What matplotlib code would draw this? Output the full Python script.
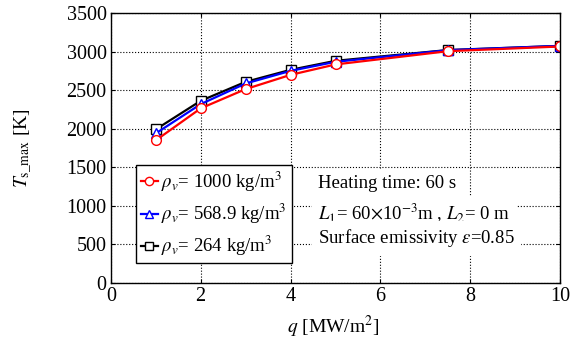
import matplotlib
matplotlib.use("Agg")
import matplotlib.pyplot as plt

plt.rcParams['font.family'] = ['Liberation Serif', 'DejaVu Serif']
plt.rcParams['mathtext.fontset'] = 'stix'

# Heat flux q [MW/m^2]
q = [1, 2, 3, 4, 5, 7.5, 10]

# Maximum surface temperature [K] for each density
t_1000 = [1850, 2265, 2515, 2700, 2835, 3007, 3068]
t_568 = [1940, 2320, 2588, 2752, 2869, 3020, 3076]
t_264 = [1992, 2363, 2609, 2765, 2882, 3022, 3076]

labels = [r'$\rho_v$= 1000 kg/m$^3$',
          r'$\rho_v$= 568.9 kg/m$^3$',
          r'$\rho_v$= 264 kg/m$^3$']

x_ticks = [0, 2, 4, 6, 8, 10]
y_ticks = [0, 500, 1000, 1500, 2000, 2500, 3000, 3500]

fig = plt.figure(figsize=(5.8, 3.56), dpi=100)
ax = fig.add_axes([0.191, 0.205, 0.775, 0.758])

l3, = ax.plot(q, t_264, color='black', lw=1.6, marker='s', ms=6.5,
              mfc='white', mec='black', mew=1.0, label=labels[2])
l2, = ax.plot(q, t_568, color='blue', lw=1.6, marker='^', ms=7,
              mfc='white', mec='blue', mew=1.0, label=labels[1])
l1, = ax.plot(q, t_1000, color='red', lw=1.6, marker='o', ms=7,
              mfc='white', mec='red', mew=1.0, label=labels[0])

ax.set_xlim(0, 10)
ax.set_ylim(0, 3500)
ax.set_xticks(x_ticks)
ax.set_yticks(y_ticks)
ax.tick_params(direction='in', top=True, right=True, labelsize=14.5,
               length=3, pad=3)
ax.grid(True, color='black', linestyle=':', linewidth=0.8)
for s in ax.spines.values():
    s.set_linewidth(1.0)

ax.set_xlabel(r'$q$ [MW/m$^2$]', fontsize=14)
ax.xaxis.set_label_coords(0.495, -0.115)
ax.set_ylabel(r'$T_{\mathrm{s\_max}}$ [K]', fontsize=14)
ax.yaxis.set_label_coords(-0.168, 0.5)

leg = ax.legend(handles=[l1, l2, l3], loc='lower left',
                bbox_to_anchor=(0.056, 0.074), borderaxespad=0,
                fontsize=13.5, fancybox=False, framealpha=1, edgecolor='black',
                handlelength=0.9, handletextpad=0.2, labelspacing=0.42,
                borderpad=0.25, markerscale=0.85)
leg.get_frame().set_linewidth(1.0)

tkw = dict(transform=ax.transAxes, fontsize=13.5, va='center', ha='left',
           backgroundcolor='white')
ax.text(0.461, 0.370, 'Heating time: 60 s', **tkw)
ax.text(0.461, 0.259, r'$L_1$= 60$\times$10$^{-3}$m , $L_2$= 0 m', **tkw)
ax.text(0.461, 0.167, r'Surface emissivity $\varepsilon$=0.85', **tkw)

fig.savefig('out.png', dpi=100)
